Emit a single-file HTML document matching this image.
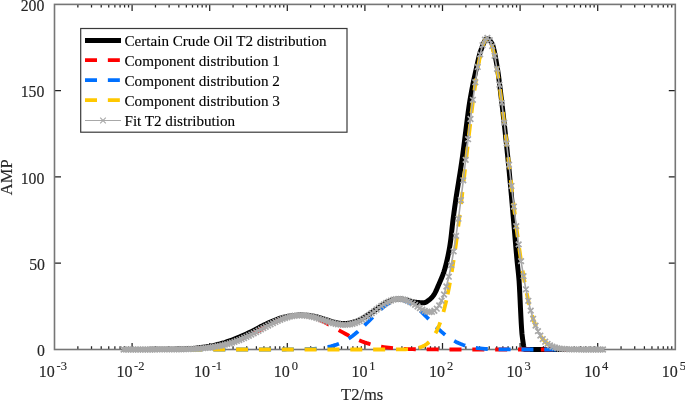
<!DOCTYPE html>
<html><head><meta charset="utf-8"><title>T2 distribution</title>
<style>html,body{margin:0;padding:0;background:#fff}body{width:685px;height:400px;overflow:hidden}</style></head>
<body>
<svg width="685" height="400" viewBox="0 0 685 400" style="display:block">
<rect width="685" height="400" fill="#fff"/>
<path d="M77.86,349.5v-3.2M77.86,4.4v3.2M91.52,349.5v-3.2M91.52,4.4v3.2M101.22,349.5v-3.2M101.22,4.4v3.2M108.74,349.5v-3.2M108.74,4.4v3.2M114.88,349.5v-3.2M114.88,4.4v3.2M120.08,349.5v-3.2M120.08,4.4v3.2M124.58,349.5v-3.2M124.58,4.4v3.2M128.55,349.5v-3.2M128.55,4.4v3.2M132.10,349.5v-6.5M132.10,4.4v6.5M155.46,349.5v-3.2M155.46,4.4v3.2M169.12,349.5v-3.2M169.12,4.4v3.2M178.82,349.5v-3.2M178.82,4.4v3.2M186.34,349.5v-3.2M186.34,4.4v3.2M192.48,349.5v-3.2M192.48,4.4v3.2M197.68,349.5v-3.2M197.68,4.4v3.2M202.18,349.5v-3.2M202.18,4.4v3.2M206.15,349.5v-3.2M206.15,4.4v3.2M209.70,349.5v-6.5M209.70,4.4v6.5M233.06,349.5v-3.2M233.06,4.4v3.2M246.72,349.5v-3.2M246.72,4.4v3.2M256.42,349.5v-3.2M256.42,4.4v3.2M263.94,349.5v-3.2M263.94,4.4v3.2M270.08,349.5v-3.2M270.08,4.4v3.2M275.28,349.5v-3.2M275.28,4.4v3.2M279.78,349.5v-3.2M279.78,4.4v3.2M283.75,349.5v-3.2M283.75,4.4v3.2M287.30,349.5v-6.5M287.30,4.4v6.5M310.66,349.5v-3.2M310.66,4.4v3.2M324.32,349.5v-3.2M324.32,4.4v3.2M334.02,349.5v-3.2M334.02,4.4v3.2M341.54,349.5v-3.2M341.54,4.4v3.2M347.68,349.5v-3.2M347.68,4.4v3.2M352.88,349.5v-3.2M352.88,4.4v3.2M357.38,349.5v-3.2M357.38,4.4v3.2M361.35,349.5v-3.2M361.35,4.4v3.2M364.90,349.5v-6.5M364.90,4.4v6.5M388.26,349.5v-3.2M388.26,4.4v3.2M401.92,349.5v-3.2M401.92,4.4v3.2M411.62,349.5v-3.2M411.62,4.4v3.2M419.14,349.5v-3.2M419.14,4.4v3.2M425.28,349.5v-3.2M425.28,4.4v3.2M430.48,349.5v-3.2M430.48,4.4v3.2M434.98,349.5v-3.2M434.98,4.4v3.2M438.95,349.5v-3.2M438.95,4.4v3.2M442.50,349.5v-6.5M442.50,4.4v6.5M465.86,349.5v-3.2M465.86,4.4v3.2M479.52,349.5v-3.2M479.52,4.4v3.2M489.22,349.5v-3.2M489.22,4.4v3.2M496.74,349.5v-3.2M496.74,4.4v3.2M502.88,349.5v-3.2M502.88,4.4v3.2M508.08,349.5v-3.2M508.08,4.4v3.2M512.58,349.5v-3.2M512.58,4.4v3.2M516.55,349.5v-3.2M516.55,4.4v3.2M520.10,349.5v-6.5M520.10,4.4v6.5M543.46,349.5v-3.2M543.46,4.4v3.2M557.12,349.5v-3.2M557.12,4.4v3.2M566.82,349.5v-3.2M566.82,4.4v3.2M574.34,349.5v-3.2M574.34,4.4v3.2M580.48,349.5v-3.2M580.48,4.4v3.2M585.68,349.5v-3.2M585.68,4.4v3.2M590.18,349.5v-3.2M590.18,4.4v3.2M594.15,349.5v-3.2M594.15,4.4v3.2M597.70,349.5v-6.5M597.70,4.4v6.5M621.06,349.5v-3.2M621.06,4.4v3.2M634.72,349.5v-3.2M634.72,4.4v3.2M644.42,349.5v-3.2M644.42,4.4v3.2M651.94,349.5v-3.2M651.94,4.4v3.2M658.08,349.5v-3.2M658.08,4.4v3.2M663.28,349.5v-3.2M663.28,4.4v3.2M667.78,349.5v-3.2M667.78,4.4v3.2M671.75,349.5v-3.2M671.75,4.4v3.2M54.5,263.23h6.5M675.3,263.23h-6.5M54.5,176.95h6.5M675.3,176.95h-6.5M54.5,90.68h6.5M675.3,90.68h-6.5" stroke="#222" stroke-width="1.25" fill="none"/>
<rect x="54.5" y="4.4" width="620.80" height="345.10" fill="none" stroke="#767676" stroke-width="1.6"/>
<path d="M123.60,349.50 L126.01,349.49 L128.42,349.47 L130.83,349.46 L133.24,349.45 L135.65,349.44 L138.05,349.43 L140.46,349.42 L142.87,349.40 L145.28,349.39 L147.69,349.38 L150.10,349.36 L152.51,349.35 L154.92,349.33 L157.33,349.32 L159.74,349.30 L162.14,349.28 L164.55,349.25 L166.96,349.23 L169.37,349.20 L171.78,349.17 L174.19,349.13 L176.60,349.09 L179.01,349.04 L181.42,348.98 L183.83,348.91 L186.24,348.83 L188.64,348.74 L191.05,348.59 L193.46,348.37 L195.87,348.12 L198.28,347.86 L200.69,347.57 L203.10,347.26 L205.51,346.92 L207.92,346.54 L210.33,346.13 L212.73,345.66 L215.14,345.13 L217.55,344.55 L219.96,343.93 L222.37,343.25 L224.78,342.53 L227.19,341.74 L229.60,340.90 L232.01,340.00 L234.42,339.04 L236.83,338.06 L239.23,337.14 L241.64,336.15 L244.05,335.10 L246.46,334.00 L248.87,332.85 L251.28,331.66 L253.69,330.42 L256.10,329.16 L258.51,327.87 L260.92,326.57 L263.32,325.36 L265.73,324.23 L268.14,323.12 L270.55,322.04 L272.96,321.00 L275.37,320.01 L277.78,319.08 L280.19,318.23 L282.60,317.53 L285.01,316.93 L287.42,316.43 L289.82,316.04 L292.23,315.75 L294.64,315.38 L297.05,315.14 L299.46,315.02 L301.87,315.03 L304.28,315.18 L306.69,315.32 L309.10,315.53 L311.51,315.85 L313.91,316.27 L316.32,316.77 L318.73,317.38 L321.14,318.13 L323.55,318.91 L325.96,319.70 L328.37,320.47 L330.78,321.19 L333.19,321.85 L335.60,322.42 L338.01,322.88 L340.41,323.21 L342.82,323.39 L345.23,323.40 L347.64,323.23 L350.05,322.87 L352.46,322.41 L354.87,321.75 L357.28,320.89 L359.69,319.84 L362.10,318.61 L364.50,317.23 L366.91,315.73 L369.32,314.18 L371.73,312.55 L374.14,310.88 L376.55,309.20 L378.96,307.50 L381.37,305.78 L383.78,304.18 L386.19,302.73 L388.59,301.47 L391.00,300.43 L393.41,299.64 L395.82,299.12 L398.23,298.89 L400.64,298.95 L403.05,299.31 L410.00,301.00 L410.61,301.19 L411.24,301.38 L411.89,301.56 L412.57,301.72 L413.27,301.87 L413.99,302.01 L414.73,302.14 L415.49,302.24 L416.28,302.33 L417.13,302.41 L418.04,302.49 L418.99,302.57 L419.96,302.64 L420.92,302.70 L421.85,302.75 L422.72,302.78 L423.53,302.80 L424.24,302.77 L424.91,302.63 L425.55,302.39 L426.16,302.08 L426.75,301.70 L427.32,301.29 L427.89,300.85 L428.45,300.41 L429.03,299.98 L429.59,299.55 L430.14,299.09 L430.69,298.60 L431.22,298.07 L431.76,297.49 L432.30,296.87 L432.84,296.20 L433.40,295.47 L433.98,294.68 L434.56,293.73 L435.16,292.63 L435.76,291.41 L436.37,290.09 L436.98,288.70 L437.60,287.27 L438.22,285.82 L438.84,284.37 L439.46,282.95 L440.09,281.53 L440.72,280.09 L441.36,278.60 L442.00,277.06 L442.64,275.42 L443.28,273.69 L443.92,271.83 L444.56,269.82 L445.21,267.54 L445.90,264.95 L446.59,262.12 L447.29,259.12 L447.96,256.01 L448.61,252.85 L449.20,249.71 L449.73,246.66 L450.19,243.74 L450.60,240.79 L450.98,237.81 L451.33,234.81 L451.66,231.83 L451.98,228.89 L452.29,226.01 L452.61,223.23 L452.93,220.56 L453.25,218.07 L453.55,215.82 L453.83,213.71 L454.10,211.67 L454.39,209.61 L454.69,207.46 L455.02,205.13 L455.39,202.53 L455.81,199.59 L456.32,196.21 L456.91,192.38 L457.59,188.16 L458.33,183.60 L459.11,178.74 L459.92,173.63 L460.75,168.33 L461.57,162.88 L462.40,157.22 L463.28,150.67 L464.22,143.39 L465.19,135.67 L466.17,127.81 L467.15,120.09 L468.10,112.83 L469.01,106.30 L469.86,100.82 L470.64,96.31 L471.40,92.14 L472.13,88.29 L472.83,84.70 L473.52,81.35 L474.18,78.19 L474.84,75.19 L475.48,72.31 L476.11,69.52 L476.72,66.80 L477.30,64.16 L477.86,61.62 L478.42,59.18 L478.97,56.88 L479.53,54.71 L480.10,52.69 L480.70,50.83 L481.33,49.10 L482.00,47.31 L482.70,45.50 L483.42,43.75 L484.14,42.12 L484.86,40.71 L485.57,39.58 L486.26,38.82 L486.92,38.50 L487.54,38.57 L488.13,38.79 L488.71,39.17 L489.27,39.68 L489.83,40.31 L490.39,41.04 L490.95,41.86 L491.53,42.76 L492.13,43.73 L492.76,45.27 L493.41,47.48 L494.08,50.25 L494.75,53.43 L495.42,56.89 L496.06,60.49 L496.68,64.09 L497.26,67.56 L497.80,70.84 L498.29,74.14 L498.76,77.51 L499.21,80.95 L499.65,84.48 L500.09,88.11 L500.53,91.84 L500.98,95.69 L501.46,99.65 L501.96,103.79 L502.47,108.16 L503.00,112.72 L503.53,117.40 L504.06,122.18 L504.60,126.99 L505.12,131.80 L505.63,136.55 L506.13,141.19 L506.59,145.59 L507.02,149.78 L507.45,153.90 L507.87,158.06 L508.30,162.39 L508.75,167.02 L509.24,172.06 L509.77,177.64 L510.39,184.23 L511.18,192.94 L512.08,203.25 L513.04,214.45 L514.02,225.88 L514.96,236.82 L515.80,246.58 L516.49,254.49 L516.98,259.84 L517.31,263.16 L517.59,265.78 L517.81,267.89 L518.02,269.70 L518.20,271.40 L518.39,273.19 L518.59,275.27 L518.82,277.83 L519.09,281.13 L519.40,286.12 L519.74,292.64 L520.11,300.15 L520.48,308.12 L520.87,316.02 L521.25,323.32 L521.63,329.46 L521.98,333.94 L522.32,336.71 L522.64,339.25 L522.97,341.64 L523.29,343.80 L523.60,345.71 L523.91,347.28 L524.21,348.48 L524.51,349.23 L524.80,349.50 L603.00,349.50" fill="none" stroke="#000" stroke-width="5" stroke-linejoin="round"/>
<path d="M123.60,349.50 L126.01,349.50 L128.42,349.50 L130.83,349.50 L133.24,349.50 L135.65,349.50 L138.05,349.50 L140.46,349.49 L142.87,349.49 L145.28,349.49 L147.69,349.49 L150.10,349.49 L152.51,349.48 L154.92,349.48 L157.33,349.47 L159.74,349.46 L162.14,349.45 L164.55,349.44 L166.96,349.43 L169.37,349.41 L171.78,349.39 L174.19,349.36 L176.60,349.33 L179.01,349.29 L181.42,349.24 L183.83,349.18 L186.24,349.12 L188.64,349.04 L191.05,348.94 L193.46,348.83 L195.87,348.70 L198.28,348.56 L200.69,348.38 L203.10,348.18 L205.51,347.96 L207.92,347.70 L210.33,347.40 L212.73,347.07 L215.14,346.69 L217.55,346.27 L219.96,345.80 L222.37,345.28 L224.78,344.71 L227.19,344.08 L229.60,343.39 L232.01,342.64 L234.42,341.83 L236.83,340.96 L239.23,340.04 L241.64,339.05 L244.05,338.00 L246.46,336.90 L248.87,335.75 L251.28,334.56 L253.69,333.32 L256.10,332.06 L258.51,330.77 L260.92,329.47 L263.32,328.16 L265.73,326.86 L268.14,325.58 L270.55,324.32 L272.96,323.11 L275.37,321.95 L277.78,320.85 L280.19,319.83 L282.60,318.89 L285.01,318.05 L287.42,317.32 L289.82,316.70 L292.23,316.21 L294.64,315.84 L297.05,315.61 L299.46,315.51 L301.87,315.55 L304.28,315.74 L306.69,316.07 L309.10,316.55 L311.51,317.16 L313.91,317.89 L316.32,318.74 L318.73,319.70 L321.14,320.76 L323.55,321.90 L325.96,323.10 L328.37,324.37 L330.78,325.68 L333.19,327.02 L335.60,328.37 L338.01,329.73 L340.41,331.09 L342.82,332.42 L345.23,333.73 L347.64,335.00 L350.05,336.22 L352.46,337.40 L354.87,338.52 L357.28,339.58 L359.69,340.57 L362.10,341.50 L364.50,342.37 L366.91,343.17 L369.32,343.90 L371.73,344.57 L374.14,345.18 L376.55,345.73 L378.96,346.23 L381.37,346.67 L383.78,347.06 L386.19,347.41 L388.59,347.71 L391.00,347.98 L393.41,348.21 L395.82,348.42 L398.23,348.59 L400.64,348.74 L403.05,348.87 L405.46,348.98 L407.87,349.07 L410.28,349.15 L412.69,349.21 L415.09,349.26 L417.50,349.31 L419.91,349.35 L422.32,349.38 L424.73,349.40 L427.14,349.42 L429.55,349.44 L431.96,349.45 L434.37,349.46 L436.78,349.47 L439.18,349.48 L441.59,349.48 L444.00,349.49 L446.41,349.49 L448.82,349.49 L451.23,349.49 L453.64,349.50 L456.05,349.50 L458.46,349.50 L460.87,349.50 L463.28,349.50 L465.68,349.50 L468.09,349.50 L470.50,349.50 L472.91,349.50 L475.32,349.50 L477.73,349.50 L480.14,349.50 L482.55,349.50 L484.96,349.50 L487.37,349.50 L489.77,349.50 L492.18,349.50 L494.59,349.50 L497.00,349.50 L499.41,349.50 L501.82,349.50 L504.23,349.50 L506.64,349.50 L509.05,349.50 L511.46,349.50 L513.87,349.50 L516.27,349.50 L518.68,349.50 L521.09,349.50 L523.50,349.50 L525.91,349.50 L528.32,349.50 L530.73,349.50 L533.14,349.50 L535.55,349.50 L537.96,349.50 L540.36,349.50 L542.77,349.50 L545.18,349.50 L547.59,349.50 L550.00,349.50 L552.41,349.50 L554.82,349.50 L557.23,349.50 L559.64,349.50 L562.05,349.50 L564.46,349.50 L566.86,349.50 L569.27,349.50 L571.68,349.50 L574.09,349.50 L576.50,349.50 L578.91,349.50 L581.32,349.50 L583.73,349.50 L586.14,349.50 L588.55,349.50 L590.95,349.50 L593.36,349.50 L595.77,349.50 L598.18,349.50 L600.59,349.50 L603.00,349.50" fill="none" stroke="#ff0000" stroke-width="3.8" stroke-dasharray="12 10.85" stroke-dashoffset="3.80" stroke-linejoin="round"/>
<path d="M123.60,349.50 L126.01,349.50 L128.42,349.50 L130.83,349.50 L133.24,349.50 L135.65,349.50 L138.05,349.50 L140.46,349.50 L142.87,349.50 L145.28,349.50 L147.69,349.50 L150.10,349.50 L152.51,349.50 L154.92,349.50 L157.33,349.50 L159.74,349.50 L162.14,349.50 L164.55,349.50 L166.96,349.50 L169.37,349.50 L171.78,349.50 L174.19,349.50 L176.60,349.50 L179.01,349.50 L181.42,349.50 L183.83,349.50 L186.24,349.50 L188.64,349.50 L191.05,349.50 L193.46,349.50 L195.87,349.50 L198.28,349.50 L200.69,349.50 L203.10,349.50 L205.51,349.50 L207.92,349.50 L210.33,349.50 L212.73,349.50 L215.14,349.50 L217.55,349.50 L219.96,349.50 L222.37,349.50 L224.78,349.50 L227.19,349.50 L229.60,349.50 L232.01,349.50 L234.42,349.50 L236.83,349.50 L239.23,349.50 L241.64,349.50 L244.05,349.50 L246.46,349.50 L248.87,349.50 L251.28,349.50 L253.69,349.50 L256.10,349.50 L258.51,349.50 L260.92,349.50 L263.32,349.50 L265.73,349.50 L268.14,349.50 L270.55,349.50 L272.96,349.50 L275.37,349.49 L277.78,349.49 L280.19,349.49 L282.60,349.48 L285.01,349.48 L287.42,349.47 L289.82,349.45 L292.23,349.44 L294.64,349.42 L297.05,349.39 L299.46,349.35 L301.87,349.30 L304.28,349.24 L306.69,349.17 L309.10,349.07 L311.51,348.95 L313.91,348.80 L316.32,348.61 L318.73,348.38 L321.14,348.10 L323.55,347.77 L325.96,347.37 L328.37,346.89 L330.78,346.33 L333.19,345.68 L335.60,344.92 L338.01,344.04 L340.41,343.04 L342.82,341.90 L345.23,340.63 L347.64,339.21 L350.05,337.65 L352.46,335.94 L354.87,334.08 L357.28,332.09 L359.69,329.97 L362.10,327.73 L364.50,325.41" fill="none" stroke="#0070ff" stroke-width="3.8" stroke-dasharray="12 10.85" stroke-dashoffset="1.60" stroke-linejoin="round"/>
<path d="M364.50,325.41 L366.91,323.01 L369.32,320.56 L371.73,318.10 L374.14,315.66 L376.55,313.27 L378.96,310.97 L381.37,308.79 L383.78,306.78 L386.19,304.97 L388.59,303.38 L391.00,302.06 L393.41,301.03 L395.82,300.30 L398.23,299.89 L400.64,299.82 L403.05,300.08 L405.46,300.68 L407.87,301.61 L410.28,302.85 L412.69,304.37 L415.09,306.14 L417.50,308.13 L419.91,310.31 L422.32,312.62 L424.73,315.04 L427.14,317.53 L429.55,320.04 L431.96,322.54 L434.37,325.00 L436.78,327.39 L439.18,329.68 L441.59,331.86 L444.00,333.91 L446.41,335.81 L448.82,337.57 L451.23,339.17 L453.64,340.62 L456.05,341.92 L458.46,343.08 L460.87,344.09 L463.28,344.98 L465.68,345.75 L468.09,346.40 L470.50,346.96 L472.91,347.44 L475.32,347.84 L477.73,348.17 L480.14,348.44 L482.55,348.66 L484.96,348.84 L487.37,348.98 L489.77,349.10 L492.18,349.19 L494.59,349.27 L497.00,349.32 L499.41,349.37 L501.82,349.40 L504.23,349.43 L506.64,349.45 L509.05,349.46 L511.46,349.47 L513.87,349.48 L516.27,349.48 L518.68,349.49 L521.09,349.49 L523.50,349.49 L525.91,349.50 L528.32,349.50 L530.73,349.50 L533.14,349.50 L535.55,349.50 L537.96,349.50 L540.36,349.50 L542.77,349.50 L545.18,349.50 L547.59,349.50 L550.00,349.50 L552.41,349.50 L554.82,349.50 L557.23,349.50 L559.64,349.50 L562.05,349.50 L564.46,349.50 L566.86,349.50 L569.27,349.50 L571.68,349.50 L574.09,349.50 L576.50,349.50 L578.91,349.50 L581.32,349.50 L583.73,349.50 L586.14,349.50 L588.55,349.50 L590.95,349.50 L593.36,349.50 L595.77,349.50 L598.18,349.50 L600.59,349.50 L603.00,349.50" fill="none" stroke="#0070ff" stroke-width="3.8" stroke-dasharray="12 10.85" stroke-dashoffset="0.26" stroke-linejoin="round"/>
<path d="M123.60,349.50 L126.01,349.50 L128.42,349.50 L130.83,349.50 L133.24,349.50 L135.65,349.50 L138.05,349.50 L140.46,349.50 L142.87,349.50 L145.28,349.50 L147.69,349.50 L150.10,349.50 L152.51,349.50 L154.92,349.50 L157.33,349.50 L159.74,349.50 L162.14,349.50 L164.55,349.50 L166.96,349.50 L169.37,349.50 L171.78,349.50 L174.19,349.50 L176.60,349.50 L179.01,349.50 L181.42,349.50 L183.83,349.50 L186.24,349.50 L188.64,349.50 L191.05,349.50 L193.46,349.50 L195.87,349.50 L198.28,349.50 L200.69,349.50 L203.10,349.50 L205.51,349.50 L207.92,349.50 L210.33,349.50 L212.73,349.50 L215.14,349.50 L217.55,349.50 L219.96,349.50 L222.37,349.50 L224.78,349.50 L227.19,349.50 L229.60,349.50 L232.01,349.50 L234.42,349.50 L236.83,349.50 L239.23,349.50 L241.64,349.50 L244.05,349.50 L246.46,349.50 L248.87,349.50 L251.28,349.50 L253.69,349.50 L256.10,349.50 L258.51,349.50 L260.92,349.50 L263.32,349.50 L265.73,349.50 L268.14,349.50 L270.55,349.50 L272.96,349.50 L275.37,349.50 L277.78,349.50 L280.19,349.50 L282.60,349.50 L285.01,349.50 L287.42,349.50 L289.82,349.50 L292.23,349.50 L294.64,349.50 L297.05,349.50 L299.46,349.50 L301.87,349.50 L304.28,349.50 L306.69,349.50 L309.10,349.50 L311.51,349.50 L313.91,349.50 L316.32,349.50 L318.73,349.50 L321.14,349.50 L323.55,349.50 L325.96,349.50 L328.37,349.50 L330.78,349.50 L333.19,349.50 L335.60,349.50 L338.01,349.50 L340.41,349.50 L342.82,349.50 L345.23,349.50 L347.64,349.50 L350.05,349.50 L352.46,349.50 L354.87,349.50 L357.28,349.50 L359.69,349.50 L362.10,349.50 L364.50,349.50 L366.91,349.50 L369.32,349.50 L371.73,349.50 L374.14,349.50 L376.55,349.50 L378.96,349.50 L381.37,349.50 L383.78,349.50 L386.19,349.50 L388.59,349.49 L391.00,349.49 L393.41,349.48 L395.82,349.47 L398.23,349.45 L400.64,349.42 L403.05,349.38 L405.46,349.31 L407.87,349.20 L410.28,349.05 L412.69,348.83 L415.09,348.51 L417.50,348.05 L419.91,347.41 L422.32,346.53 L424.73,345.34 L427.14,343.74 L429.55,341.62 L431.96,338.86 L434.37,335.31 L436.78,330.83 L439.18,325.24 L441.59,318.38 L444.00,310.08 L446.41,300.21" fill="none" stroke="#ffc800" stroke-width="3.8" stroke-dasharray="12 10.85" stroke-dashoffset="1.80" stroke-linejoin="round"/>
<path d="M446.41,300.21 L448.82,288.65 L451.23,275.33 L453.64,260.25 L456.05,243.46 L458.46,225.12 L460.87,205.46 L463.28,184.81 L465.68,163.60 L468.09,142.32 L470.50,121.54 L472.91,101.86 L475.32,83.90 L477.73,68.26 L480.14,55.49 L482.55,46.04 L484.96,40.27 L487.37,38.39" fill="none" stroke="#ffc800" stroke-width="3.8" stroke-dasharray="12 10.85" stroke-dashoffset="16.83" stroke-linejoin="round"/>
<path d="M487.37,38.39 L489.77,40.49 L492.18,46.46 L494.59,56.10 L497.00,69.05 L499.41,84.83 L501.82,102.90 L504.23,122.65 L506.64,143.47 L509.05,164.77 L511.46,185.96 L513.87,206.57 L516.27,226.16 L518.68,244.42 L521.09,261.12 L523.50,276.11 L525.91,289.33 L528.32,300.80 L530.73,310.58 L533.14,318.79 L535.55,325.58 L537.96,331.10 L540.36,335.53 L542.77,339.03 L545.18,341.75 L547.59,343.84 L550.00,345.41 L552.41,346.59 L554.82,347.45 L557.23,348.08 L559.64,348.53 L562.05,348.84 L564.46,349.06 L566.86,349.21 L569.27,349.31 L571.68,349.38 L574.09,349.42 L576.50,349.45 L578.91,349.47 L581.32,349.48 L583.73,349.49 L586.14,349.49 L588.55,349.50 L590.95,349.50 L593.36,349.50 L595.77,349.50 L598.18,349.50 L600.59,349.50 L603.00,349.50" fill="none" stroke="#ffc800" stroke-width="3.8" stroke-dasharray="12 10.85" stroke-dashoffset="15.41" stroke-linejoin="round"/>
<path d="M123.60,349.50 L126.01,349.50 L128.42,349.50 L130.83,349.50 L133.24,349.50 L135.65,349.50 L138.05,349.50 L140.46,349.49 L142.87,349.49 L145.28,349.49 L147.69,349.49 L150.10,349.49 L152.51,349.48 L154.92,349.48 L157.33,349.47 L159.74,349.46 L162.14,349.45 L164.55,349.44 L166.96,349.43 L169.37,349.41 L171.78,349.39 L174.19,349.36 L176.60,349.33 L179.01,349.29 L181.42,349.24 L183.83,349.18 L186.24,349.12 L188.64,349.04 L191.05,348.94 L193.46,348.83 L195.87,348.70 L198.28,348.56 L200.69,348.38 L203.10,348.18 L205.51,347.96 L207.92,347.70 L210.33,347.40 L212.73,347.07 L215.14,346.69 L217.55,346.27 L219.96,345.80 L222.37,345.28 L224.78,344.71 L227.19,344.08 L229.60,343.39 L232.01,342.64 L234.42,341.83 L236.83,340.96 L239.23,340.04 L241.64,339.05 L244.05,338.00 L246.46,336.90 L248.87,335.75 L251.28,334.56 L253.69,333.32 L256.10,332.06 L258.51,330.77 L260.92,329.47 L263.32,328.16 L265.73,326.86 L268.14,325.58 L270.55,324.32 L272.96,323.11 L275.37,321.94 L277.78,320.84 L280.19,319.81 L282.60,318.87 L285.01,318.03 L287.42,317.29 L289.82,316.66 L292.23,316.15 L294.64,315.76 L297.05,315.50 L299.46,315.36 L301.87,315.36 L304.28,315.48 L306.69,315.74 L309.10,316.12 L311.51,316.60 L313.91,317.19 L316.32,317.85 L318.73,318.58 L321.14,319.36 L323.55,320.17 L325.96,320.97 L328.37,321.76 L330.78,322.51 L333.19,323.19 L335.60,323.79 L338.01,324.27 L340.41,324.62 L342.82,324.82 L345.23,324.86 L347.64,324.71 L350.05,324.37 L352.46,323.84 L354.87,323.10 L357.28,322.16 L359.69,321.04 L362.10,319.74 L364.50,318.27 L366.91,316.67 L369.32,314.96 L371.73,313.17 L374.14,311.34 L376.55,309.50 L378.96,307.69 L381.37,305.96 L383.78,304.34 L386.19,302.87 L388.59,301.59 L391.00,300.53 L393.41,299.72 L395.82,299.19 L398.23,298.94 L400.64,298.98 L403.05,299.33 L405.46,299.97 L407.87,300.88 L410.28,302.05 L412.69,303.41 L415.09,304.91 L417.50,306.49 L419.91,308.07 L422.32,309.53 L424.73,310.78 L427.14,311.68 L429.55,312.09 L431.96,311.85 L434.37,310.77 L436.78,308.69 L439.18,305.40 L441.59,300.72 L444.00,294.48 L446.41,286.52 L448.82,276.71 L451.23,265.00 L453.64,251.37 L456.05,235.88 L458.46,218.70 L460.87,200.05 L463.28,180.29 L465.68,159.84 L468.09,139.22 L470.50,119.00 L472.91,99.80 L475.32,82.24 L477.73,66.93 L480.14,54.42 L482.55,45.20 L484.96,39.61 L487.37,37.88 L489.77,40.09 L492.18,46.16 L494.59,55.87 L497.00,68.87 L499.41,84.69 L501.82,102.80 L504.23,122.58 L506.64,143.42 L509.05,164.72 L511.46,185.93 L513.87,206.54 L516.27,226.15 L518.68,244.41 L521.09,261.11 L523.50,276.10 L525.91,289.32 L528.32,300.79 L530.73,310.58 L533.14,318.79 L535.55,325.58 L537.96,331.10 L540.36,335.53 L542.77,339.03 L545.18,341.75 L547.59,343.84 L550.00,345.41 L552.41,346.59 L554.82,347.45 L557.23,348.08 L559.64,348.53 L562.05,348.84 L564.46,349.06 L566.86,349.21 L569.27,349.31 L571.68,349.38 L574.09,349.42 L576.50,349.45 L578.91,349.47 L581.32,349.48 L583.73,349.49 L586.14,349.49 L588.55,349.50 L590.95,349.50 L593.36,349.50 L595.77,349.50 L598.18,349.50 L600.59,349.50 L603.00,349.50" fill="none" stroke="#a8a8a8" stroke-width="1.6"/>
<path d="M120.80,346.70l5.6,5.6M120.80,352.30l5.6,-5.6M123.21,346.70l5.6,5.6M123.21,352.30l5.6,-5.6M125.62,346.70l5.6,5.6M125.62,352.30l5.6,-5.6M128.03,346.70l5.6,5.6M128.03,352.30l5.6,-5.6M130.44,346.70l5.6,5.6M130.44,352.30l5.6,-5.6M132.85,346.70l5.6,5.6M132.85,352.30l5.6,-5.6M135.25,346.70l5.6,5.6M135.25,352.30l5.6,-5.6M137.66,346.69l5.6,5.6M137.66,352.29l5.6,-5.6M140.07,346.69l5.6,5.6M140.07,352.29l5.6,-5.6M142.48,346.69l5.6,5.6M142.48,352.29l5.6,-5.6M144.89,346.69l5.6,5.6M144.89,352.29l5.6,-5.6M147.30,346.69l5.6,5.6M147.30,352.29l5.6,-5.6M149.71,346.68l5.6,5.6M149.71,352.28l5.6,-5.6M152.12,346.68l5.6,5.6M152.12,352.28l5.6,-5.6M154.53,346.67l5.6,5.6M154.53,352.27l5.6,-5.6M156.94,346.66l5.6,5.6M156.94,352.26l5.6,-5.6M159.34,346.65l5.6,5.6M159.34,352.25l5.6,-5.6M161.75,346.64l5.6,5.6M161.75,352.24l5.6,-5.6M164.16,346.63l5.6,5.6M164.16,352.23l5.6,-5.6M166.57,346.61l5.6,5.6M166.57,352.21l5.6,-5.6M168.98,346.59l5.6,5.6M168.98,352.19l5.6,-5.6M171.39,346.56l5.6,5.6M171.39,352.16l5.6,-5.6M173.80,346.53l5.6,5.6M173.80,352.13l5.6,-5.6M176.21,346.49l5.6,5.6M176.21,352.09l5.6,-5.6M178.62,346.44l5.6,5.6M178.62,352.04l5.6,-5.6M181.03,346.38l5.6,5.6M181.03,351.98l5.6,-5.6M183.44,346.32l5.6,5.6M183.44,351.92l5.6,-5.6M185.84,346.24l5.6,5.6M185.84,351.84l5.6,-5.6M188.25,346.14l5.6,5.6M188.25,351.74l5.6,-5.6M190.66,346.03l5.6,5.6M190.66,351.63l5.6,-5.6M193.07,345.90l5.6,5.6M193.07,351.50l5.6,-5.6M195.48,345.76l5.6,5.6M195.48,351.36l5.6,-5.6M197.89,345.58l5.6,5.6M197.89,351.18l5.6,-5.6M200.30,345.38l5.6,5.6M200.30,350.98l5.6,-5.6M202.71,345.16l5.6,5.6M202.71,350.76l5.6,-5.6M205.12,344.90l5.6,5.6M205.12,350.50l5.6,-5.6M207.53,344.60l5.6,5.6M207.53,350.20l5.6,-5.6M209.93,344.27l5.6,5.6M209.93,349.87l5.6,-5.6M212.34,343.89l5.6,5.6M212.34,349.49l5.6,-5.6M214.75,343.47l5.6,5.6M214.75,349.07l5.6,-5.6M217.16,343.00l5.6,5.6M217.16,348.60l5.6,-5.6M219.57,342.48l5.6,5.6M219.57,348.08l5.6,-5.6M221.98,341.91l5.6,5.6M221.98,347.51l5.6,-5.6M224.39,341.28l5.6,5.6M224.39,346.88l5.6,-5.6M226.80,340.59l5.6,5.6M226.80,346.19l5.6,-5.6M229.21,339.84l5.6,5.6M229.21,345.44l5.6,-5.6M231.62,339.03l5.6,5.6M231.62,344.63l5.6,-5.6M234.03,338.16l5.6,5.6M234.03,343.76l5.6,-5.6M236.43,337.24l5.6,5.6M236.43,342.84l5.6,-5.6M238.84,336.25l5.6,5.6M238.84,341.85l5.6,-5.6M241.25,335.20l5.6,5.6M241.25,340.80l5.6,-5.6M243.66,334.10l5.6,5.6M243.66,339.70l5.6,-5.6M246.07,332.95l5.6,5.6M246.07,338.55l5.6,-5.6M248.48,331.76l5.6,5.6M248.48,337.36l5.6,-5.6M250.89,330.52l5.6,5.6M250.89,336.12l5.6,-5.6M253.30,329.26l5.6,5.6M253.30,334.86l5.6,-5.6M255.71,327.97l5.6,5.6M255.71,333.57l5.6,-5.6M258.12,326.67l5.6,5.6M258.12,332.27l5.6,-5.6M260.52,325.36l5.6,5.6M260.52,330.96l5.6,-5.6M262.93,324.06l5.6,5.6M262.93,329.66l5.6,-5.6M265.34,322.78l5.6,5.6M265.34,328.38l5.6,-5.6M267.75,321.52l5.6,5.6M267.75,327.12l5.6,-5.6M270.16,320.31l5.6,5.6M270.16,325.91l5.6,-5.6M272.57,319.14l5.6,5.6M272.57,324.74l5.6,-5.6M274.98,318.04l5.6,5.6M274.98,323.64l5.6,-5.6M277.39,317.01l5.6,5.6M277.39,322.61l5.6,-5.6M279.80,316.07l5.6,5.6M279.80,321.67l5.6,-5.6M282.21,315.23l5.6,5.6M282.21,320.83l5.6,-5.6M284.62,314.49l5.6,5.6M284.62,320.09l5.6,-5.6M287.02,313.86l5.6,5.6M287.02,319.46l5.6,-5.6M289.43,313.35l5.6,5.6M289.43,318.95l5.6,-5.6M291.84,312.96l5.6,5.6M291.84,318.56l5.6,-5.6M294.25,312.70l5.6,5.6M294.25,318.30l5.6,-5.6M296.66,312.56l5.6,5.6M296.66,318.16l5.6,-5.6M299.07,312.56l5.6,5.6M299.07,318.16l5.6,-5.6M301.48,312.68l5.6,5.6M301.48,318.28l5.6,-5.6M303.89,312.94l5.6,5.6M303.89,318.54l5.6,-5.6M306.30,313.32l5.6,5.6M306.30,318.92l5.6,-5.6M308.71,313.80l5.6,5.6M308.71,319.40l5.6,-5.6M311.11,314.39l5.6,5.6M311.11,319.99l5.6,-5.6M313.52,315.05l5.6,5.6M313.52,320.65l5.6,-5.6M315.93,315.78l5.6,5.6M315.93,321.38l5.6,-5.6M318.34,316.56l5.6,5.6M318.34,322.16l5.6,-5.6M320.75,317.37l5.6,5.6M320.75,322.97l5.6,-5.6M323.16,318.17l5.6,5.6M323.16,323.77l5.6,-5.6M325.57,318.96l5.6,5.6M325.57,324.56l5.6,-5.6M327.98,319.71l5.6,5.6M327.98,325.31l5.6,-5.6M330.39,320.39l5.6,5.6M330.39,325.99l5.6,-5.6M332.80,320.99l5.6,5.6M332.80,326.59l5.6,-5.6M335.21,321.47l5.6,5.6M335.21,327.07l5.6,-5.6M337.61,321.82l5.6,5.6M337.61,327.42l5.6,-5.6M340.02,322.02l5.6,5.6M340.02,327.62l5.6,-5.6M342.43,322.06l5.6,5.6M342.43,327.66l5.6,-5.6M344.84,321.91l5.6,5.6M344.84,327.51l5.6,-5.6M347.25,321.57l5.6,5.6M347.25,327.17l5.6,-5.6M349.66,321.04l5.6,5.6M349.66,326.64l5.6,-5.6M352.07,320.30l5.6,5.6M352.07,325.90l5.6,-5.6M354.48,319.36l5.6,5.6M354.48,324.96l5.6,-5.6M356.89,318.24l5.6,5.6M356.89,323.84l5.6,-5.6M359.30,316.94l5.6,5.6M359.30,322.54l5.6,-5.6M361.70,315.47l5.6,5.6M361.70,321.07l5.6,-5.6M364.11,313.87l5.6,5.6M364.11,319.47l5.6,-5.6M366.52,312.16l5.6,5.6M366.52,317.76l5.6,-5.6M368.93,310.37l5.6,5.6M368.93,315.97l5.6,-5.6M371.34,308.54l5.6,5.6M371.34,314.14l5.6,-5.6M373.75,306.70l5.6,5.6M373.75,312.30l5.6,-5.6M376.16,304.89l5.6,5.6M376.16,310.49l5.6,-5.6M378.57,303.16l5.6,5.6M378.57,308.76l5.6,-5.6M380.98,301.54l5.6,5.6M380.98,307.14l5.6,-5.6M383.39,300.07l5.6,5.6M383.39,305.67l5.6,-5.6M385.79,298.79l5.6,5.6M385.79,304.39l5.6,-5.6M388.20,297.73l5.6,5.6M388.20,303.33l5.6,-5.6M390.61,296.92l5.6,5.6M390.61,302.52l5.6,-5.6M393.02,296.39l5.6,5.6M393.02,301.99l5.6,-5.6M395.43,296.14l5.6,5.6M395.43,301.74l5.6,-5.6M397.84,296.18l5.6,5.6M397.84,301.78l5.6,-5.6M400.25,296.53l5.6,5.6M400.25,302.13l5.6,-5.6M402.66,297.17l5.6,5.6M402.66,302.77l5.6,-5.6M405.07,298.08l5.6,5.6M405.07,303.68l5.6,-5.6M407.48,299.25l5.6,5.6M407.48,304.85l5.6,-5.6M409.89,300.61l5.6,5.6M409.89,306.21l5.6,-5.6M412.29,302.11l5.6,5.6M412.29,307.71l5.6,-5.6M414.70,303.69l5.6,5.6M414.70,309.29l5.6,-5.6M417.11,305.27l5.6,5.6M417.11,310.87l5.6,-5.6M419.52,306.73l5.6,5.6M419.52,312.33l5.6,-5.6M421.93,307.98l5.6,5.6M421.93,313.58l5.6,-5.6M424.34,308.88l5.6,5.6M424.34,314.48l5.6,-5.6M426.75,309.29l5.6,5.6M426.75,314.89l5.6,-5.6M429.16,309.05l5.6,5.6M429.16,314.65l5.6,-5.6M431.57,307.97l5.6,5.6M431.57,313.57l5.6,-5.6M433.98,305.89l5.6,5.6M433.98,311.49l5.6,-5.6M436.38,302.60l5.6,5.6M436.38,308.20l5.6,-5.6M438.79,297.92l5.6,5.6M438.79,303.52l5.6,-5.6M441.20,291.68l5.6,5.6M441.20,297.28l5.6,-5.6M443.61,283.72l5.6,5.6M443.61,289.32l5.6,-5.6M446.02,273.91l5.6,5.6M446.02,279.51l5.6,-5.6M448.43,262.20l5.6,5.6M448.43,267.80l5.6,-5.6M450.84,248.57l5.6,5.6M450.84,254.17l5.6,-5.6M453.25,233.08l5.6,5.6M453.25,238.68l5.6,-5.6M455.66,215.90l5.6,5.6M455.66,221.50l5.6,-5.6M458.07,197.25l5.6,5.6M458.07,202.85l5.6,-5.6M460.48,177.49l5.6,5.6M460.48,183.09l5.6,-5.6M462.88,157.04l5.6,5.6M462.88,162.64l5.6,-5.6M465.29,136.42l5.6,5.6M465.29,142.02l5.6,-5.6M467.70,116.20l5.6,5.6M467.70,121.80l5.6,-5.6M470.11,97.00l5.6,5.6M470.11,102.60l5.6,-5.6M472.52,79.44l5.6,5.6M472.52,85.04l5.6,-5.6M474.93,64.13l5.6,5.6M474.93,69.73l5.6,-5.6M477.34,51.62l5.6,5.6M477.34,57.22l5.6,-5.6M479.75,42.40l5.6,5.6M479.75,48.00l5.6,-5.6M482.16,36.81l5.6,5.6M482.16,42.41l5.6,-5.6M484.57,35.08l5.6,5.6M484.57,40.68l5.6,-5.6M486.97,37.29l5.6,5.6M486.97,42.89l5.6,-5.6M489.38,43.36l5.6,5.6M489.38,48.96l5.6,-5.6M491.79,53.07l5.6,5.6M491.79,58.67l5.6,-5.6M494.20,66.07l5.6,5.6M494.20,71.67l5.6,-5.6M496.61,81.89l5.6,5.6M496.61,87.49l5.6,-5.6M499.02,100.00l5.6,5.6M499.02,105.60l5.6,-5.6M501.43,119.78l5.6,5.6M501.43,125.38l5.6,-5.6M503.84,140.62l5.6,5.6M503.84,146.22l5.6,-5.6M506.25,161.92l5.6,5.6M506.25,167.52l5.6,-5.6M508.66,183.13l5.6,5.6M508.66,188.73l5.6,-5.6M511.07,203.74l5.6,5.6M511.07,209.34l5.6,-5.6M513.47,223.35l5.6,5.6M513.47,228.95l5.6,-5.6M515.88,241.61l5.6,5.6M515.88,247.21l5.6,-5.6M518.29,258.31l5.6,5.6M518.29,263.91l5.6,-5.6M520.70,273.30l5.6,5.6M520.70,278.90l5.6,-5.6M523.11,286.52l5.6,5.6M523.11,292.12l5.6,-5.6M525.52,297.99l5.6,5.6M525.52,303.59l5.6,-5.6M527.93,307.78l5.6,5.6M527.93,313.38l5.6,-5.6M530.34,315.99l5.6,5.6M530.34,321.59l5.6,-5.6M532.75,322.78l5.6,5.6M532.75,328.38l5.6,-5.6M535.16,328.30l5.6,5.6M535.16,333.90l5.6,-5.6M537.56,332.73l5.6,5.6M537.56,338.33l5.6,-5.6M539.97,336.23l5.6,5.6M539.97,341.83l5.6,-5.6M542.38,338.95l5.6,5.6M542.38,344.55l5.6,-5.6M544.79,341.04l5.6,5.6M544.79,346.64l5.6,-5.6M547.20,342.61l5.6,5.6M547.20,348.21l5.6,-5.6M549.61,343.79l5.6,5.6M549.61,349.39l5.6,-5.6M552.02,344.65l5.6,5.6M552.02,350.25l5.6,-5.6M554.43,345.28l5.6,5.6M554.43,350.88l5.6,-5.6M556.84,345.73l5.6,5.6M556.84,351.33l5.6,-5.6M559.25,346.04l5.6,5.6M559.25,351.64l5.6,-5.6M561.66,346.26l5.6,5.6M561.66,351.86l5.6,-5.6M564.06,346.41l5.6,5.6M564.06,352.01l5.6,-5.6M566.47,346.51l5.6,5.6M566.47,352.11l5.6,-5.6M568.88,346.58l5.6,5.6M568.88,352.18l5.6,-5.6M571.29,346.62l5.6,5.6M571.29,352.22l5.6,-5.6M573.70,346.65l5.6,5.6M573.70,352.25l5.6,-5.6M576.11,346.67l5.6,5.6M576.11,352.27l5.6,-5.6M578.52,346.68l5.6,5.6M578.52,352.28l5.6,-5.6M580.93,346.69l5.6,5.6M580.93,352.29l5.6,-5.6M583.34,346.69l5.6,5.6M583.34,352.29l5.6,-5.6M585.75,346.70l5.6,5.6M585.75,352.30l5.6,-5.6M588.15,346.70l5.6,5.6M588.15,352.30l5.6,-5.6M590.56,346.70l5.6,5.6M590.56,352.30l5.6,-5.6M592.97,346.70l5.6,5.6M592.97,352.30l5.6,-5.6M595.38,346.70l5.6,5.6M595.38,352.30l5.6,-5.6M597.79,346.70l5.6,5.6M597.79,352.30l5.6,-5.6M600.20,346.70l5.6,5.6M600.20,352.30l5.6,-5.6" fill="none" stroke="#a8a8a8" stroke-width="1.7"/>
<rect x="80.7" y="28.5" width="266.3" height="103.7" fill="#fff" stroke="#3a3a3a" stroke-width="1.2"/>
<path d="M85,40.4H121" stroke="#000" stroke-width="5"/>
<path d="M85,60.2H121" stroke="#ff0000" stroke-width="3.8" stroke-dasharray="12 10.85"/>
<path d="M85,80.2H121" stroke="#0070ff" stroke-width="3.8" stroke-dasharray="12 10.85"/>
<path d="M85,100.2H121" stroke="#ffc800" stroke-width="3.8" stroke-dasharray="12 10.85"/>
<path d="M85,120.5H121" stroke="#a8a8a8" stroke-width="1.2"/>
<path d="M100.2,117.7l5.6,5.6M100.2,123.3l5.6,-5.6" stroke="#a8a8a8" stroke-width="1.1"/>
<text x="124.5" y="46.2" font-family="'Liberation Serif','Times New Roman',serif" font-size="15.12" fill="#000" stroke="#000" stroke-width="0.12">Certain Crude Oil T2 distribution</text>
<text x="124.5" y="66.2" font-family="'Liberation Serif','Times New Roman',serif" font-size="15.12" fill="#000" stroke="#000" stroke-width="0.12">Component distribution 1</text>
<text x="124.5" y="86.2" font-family="'Liberation Serif','Times New Roman',serif" font-size="15.12" fill="#000" stroke="#000" stroke-width="0.12">Component distribution 2</text>
<text x="124.5" y="106.2" font-family="'Liberation Serif','Times New Roman',serif" font-size="15.12" fill="#000" stroke="#000" stroke-width="0.12">Component distribution 3</text>
<text x="124.5" y="126.2" font-family="'Liberation Serif','Times New Roman',serif" font-size="15.12" fill="#000" stroke="#000" stroke-width="0.12">Fit T2 distribution</text>
<text x="45.0" y="356.30" text-anchor="end" font-family="'Liberation Serif','Times New Roman',serif" font-size="15.8" fill="#262626" stroke="#262626" stroke-width="0.15">0</text>
<text x="45.0" y="270.03" text-anchor="end" font-family="'Liberation Serif','Times New Roman',serif" font-size="15.8" fill="#262626" stroke="#262626" stroke-width="0.15">50</text>
<text x="44.4" y="183.75" text-anchor="end" font-family="'Liberation Serif','Times New Roman',serif" font-size="15.8" fill="#262626" stroke="#262626" stroke-width="0.15">100</text>
<text x="44.4" y="97.48" text-anchor="end" font-family="'Liberation Serif','Times New Roman',serif" font-size="15.8" fill="#262626" stroke="#262626" stroke-width="0.15">150</text>
<text x="44.4" y="11.20" text-anchor="end" font-family="'Liberation Serif','Times New Roman',serif" font-size="15.8" fill="#262626" stroke="#262626" stroke-width="0.15">200</text>
<text x="38.80" y="377.2" font-family="'Liberation Serif','Times New Roman',serif" font-size="16" fill="#262626" stroke="#262626" stroke-width="0.15">10</text>
<text x="56.50" y="369.8" font-family="'Liberation Serif','Times New Roman',serif" font-size="12.5" fill="#262626" stroke="#262626" stroke-width="0.12">-3</text>
<text x="116.40" y="377.2" font-family="'Liberation Serif','Times New Roman',serif" font-size="16" fill="#262626" stroke="#262626" stroke-width="0.15">10</text>
<text x="134.10" y="369.8" font-family="'Liberation Serif','Times New Roman',serif" font-size="12.5" fill="#262626" stroke="#262626" stroke-width="0.12">-2</text>
<text x="194.00" y="377.2" font-family="'Liberation Serif','Times New Roman',serif" font-size="16" fill="#262626" stroke="#262626" stroke-width="0.15">10</text>
<text x="211.70" y="369.8" font-family="'Liberation Serif','Times New Roman',serif" font-size="12.5" fill="#262626" stroke="#262626" stroke-width="0.12">-1</text>
<text x="273.80" y="377.2" font-family="'Liberation Serif','Times New Roman',serif" font-size="16" fill="#262626" stroke="#262626" stroke-width="0.15">10</text>
<text x="291.70" y="369.8" font-family="'Liberation Serif','Times New Roman',serif" font-size="12.5" fill="#262626" stroke="#262626" stroke-width="0.12">0</text>
<text x="351.40" y="377.2" font-family="'Liberation Serif','Times New Roman',serif" font-size="16" fill="#262626" stroke="#262626" stroke-width="0.15">10</text>
<text x="369.30" y="369.8" font-family="'Liberation Serif','Times New Roman',serif" font-size="12.5" fill="#262626" stroke="#262626" stroke-width="0.12">1</text>
<text x="429.00" y="377.2" font-family="'Liberation Serif','Times New Roman',serif" font-size="16" fill="#262626" stroke="#262626" stroke-width="0.15">10</text>
<text x="446.90" y="369.8" font-family="'Liberation Serif','Times New Roman',serif" font-size="12.5" fill="#262626" stroke="#262626" stroke-width="0.12">2</text>
<text x="506.60" y="377.2" font-family="'Liberation Serif','Times New Roman',serif" font-size="16" fill="#262626" stroke="#262626" stroke-width="0.15">10</text>
<text x="524.50" y="369.8" font-family="'Liberation Serif','Times New Roman',serif" font-size="12.5" fill="#262626" stroke="#262626" stroke-width="0.12">3</text>
<text x="584.20" y="377.2" font-family="'Liberation Serif','Times New Roman',serif" font-size="16" fill="#262626" stroke="#262626" stroke-width="0.15">10</text>
<text x="602.10" y="369.8" font-family="'Liberation Serif','Times New Roman',serif" font-size="12.5" fill="#262626" stroke="#262626" stroke-width="0.12">4</text>
<text x="661.80" y="377.2" font-family="'Liberation Serif','Times New Roman',serif" font-size="16" fill="#262626" stroke="#262626" stroke-width="0.15">10</text>
<text x="679.70" y="369.8" font-family="'Liberation Serif','Times New Roman',serif" font-size="12.5" fill="#262626" stroke="#262626" stroke-width="0.12">5</text>
<text x="362.2" y="400" text-anchor="middle" font-family="'Liberation Serif','Times New Roman',serif" font-size="16.5" fill="#262626" stroke="#262626" stroke-width="0.15">T2/ms</text>
<text transform="translate(12,177.3) rotate(-90)" text-anchor="middle" font-family="'Liberation Serif','Times New Roman',serif" font-size="16.5" fill="#262626" stroke="#262626" stroke-width="0.15">AMP</text>
</svg>
</body></html>
